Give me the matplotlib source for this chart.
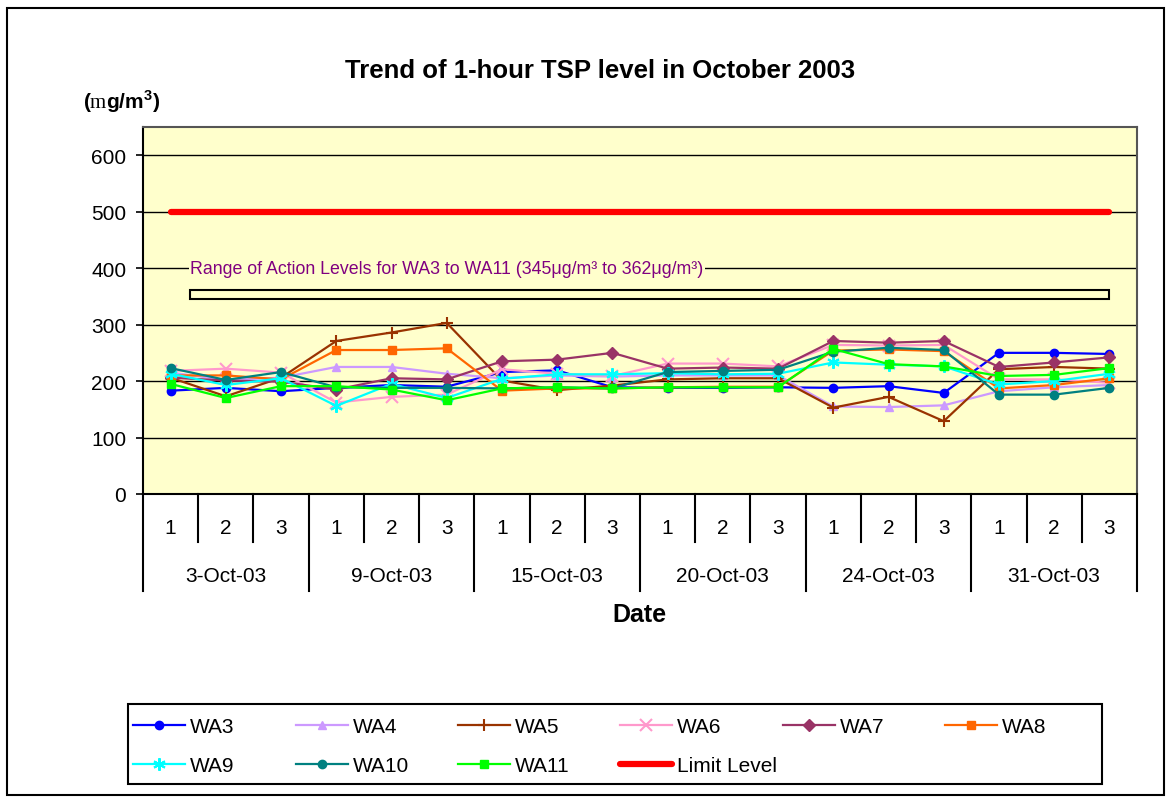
import matplotlib
matplotlib.use("Agg")
import matplotlib.pyplot as plt
from matplotlib.patches import Rectangle
from matplotlib.lines import Line2D
from matplotlib.transforms import blended_transform_factory
import numpy as np

plt.rcParams['font.family'] = ['Liberation Sans', 'DejaVu Sans']
plt.rcParams['mathtext.fontset'] = 'custom'
plt.rcParams['mathtext.rm'] = 'Liberation Serif'
plt.rcParams['mathtext.bf'] = 'Liberation Sans:bold'

# ---------------- data ----------------
dates = ["3-Oct-03", "9-Oct-03", "15-Oct-03", "20-Oct-03", "24-Oct-03", "31-Oct-03"]
sub_labels = ["1", "2", "3"]

WA3 = [183, 188, 182, 188, 193, 190, 216, 219, 189, 188, 188, 189, 188, 191, 179, 250, 250, 248]
WA4 = [215, 202, 206, 225, 225, 213, 205, 210, 208, 210, 210, 210, 155, 154, 157, 182, 189, 193]
WA5 = [206, 173, 206, 271, 286, 303, 201, 184, 192, 203, 205, 205, 153, 172, 129, 221, 225, 222]
WA6 = [218, 222, 215, 162, 172, 176, 221, 213, 209, 231, 231, 226, 264, 263, 264, 203, 203, 197]
WA7 = [206, 201, 199, 185, 205, 203, 235, 238, 250, 222, 224, 222, 271, 268, 271, 225, 233, 242]
WA8 = [210, 210, 203, 255, 255, 258, 183, 187, 187, 189, 190, 190, 254, 256, 253, 187, 193, 205]
WA9 = [213, 193, 205, 156, 195, 170, 204, 212, 212, 214, 212, 213, 233, 229, 226, 194, 200, 213]
WA10 = [223, 202, 216, 189, 188, 188, 187, 189, 187, 216, 218, 220, 252, 259, 255, 176, 176, 188]
WA11 = [195, 170, 191, 191, 185, 166, 187, 189, 187, 189, 189, 189, 257, 230, 226, 209, 211, 223]
limit_level = 500
action_low, action_high = 345, 362

series = [
    ("WA3", WA3, "#0000FF", "o", {}),
    ("WA4", WA4, "#CC99FF", "^", {}),
    ("WA5", WA5, "#993300", "+", {"markeredgewidth": 1.5, "markersize": 9}),
    ("WA6", WA6, "#FF99CC", "x", {"markeredgewidth": 1.5, "markersize": 8}),
    ("WA7", WA7, "#993366", "D", {}),
    ("WA8", WA8, "#FF6600", "s", {}),
    ("WA9", WA9, "#00FFFF", (6, 2, 0), {"markeredgewidth": 1.5, "markersize": 9}),
    ("WA10", WA10, "#008080", "o", {}),
    ("WA11", WA11, "#00FF00", "s", {}),
]

W, H = 1171, 803
fig = plt.figure(figsize=(W / 100, H / 100), dpi=100)
fig.patch.set_facecolor("white")

ax = fig.add_axes([143 / W, 1 - 495 / H, 994 / W, 367 / H])
ax.set_facecolor("#FFFFCC")

n = len(WA3)
x = np.arange(n)

handles = []
for name, vals, col, mk, extra in series:
    kw = dict(color=col, lw=1.6, marker=mk, markersize=6, markerfacecolor=col,
              markeredgecolor=col, zorder=3)
    kw.update(extra)
    ln, = ax.plot(x, vals, label=name, **kw)
    handles.append(ln)

lim, = ax.plot(x, [limit_level] * n, color="#FF0000", lw=4.5, solid_capstyle="round",
               zorder=4, label="Limit Level")
handles.append(lim)

ax.set_xlim(-0.5, n - 0.5)
ax.set_ylim(0, 650)
ax.set_yticks(np.arange(0, 601, 100))
ax.yaxis.grid(True, color="black", lw=1.0)
ax.set_axisbelow(True)
ax.set_xticks([])
ax.tick_params(axis="y", length=5, width=1.2, pad=7, labelsize=15, direction="out")

for s in ["left", "bottom"]:
    ax.spines[s].set_color("black")
    ax.spines[s].set_linewidth(1.5)
for s in ["top", "right"]:
    ax.spines[s].set_color("#555555")
    ax.spines[s].set_linewidth(1.5)

# action level box and label
ax.add_patch(Rectangle((0.35, action_low), (n - 1) - 0.35, action_high - action_low,
                       fill=False, edgecolor="black", lw=1.5, zorder=2))
ax.text(0.35, 400, "Range of Action Levels for WA3 to WA11 (345\u03bcg/m\u00b3 to 362\u03bcg/m\u00b3)",
        family=["Liberation Sans Narrow", "Liberation Sans"], fontsize=12.8, color="#800080",
        ha="left", va="center", zorder=2,
        bbox=dict(facecolor="#FFFFCC", edgecolor="none", pad=1))

# multi-level category axis
tr = blended_transform_factory(ax.transData, ax.transAxes)
for i in range(n):
    ax.text(i, -0.09, sub_labels[i % 3], transform=tr, ha="center", va="center", fontsize=15)
for g, d in enumerate(dates):
    ax.text(3 * g + 1, -0.2234, d, transform=tr, ha="center", va="center", fontsize=15)
for b in range(n + 1):
    y1 = -0.264 if b % 3 == 0 else -0.1308
    ax.add_line(Line2D([b - 0.5, b - 0.5], [0, y1], transform=tr, color="black",
                       lw=1.5, clip_on=False))

# titles
fig.text(600 / W, 1 - 71 / H, "Trend of 1-hour TSP level in October 2003", ha="center",
         va="center", fontsize=18.5, fontweight="bold")
fig.text(83 / W, 1 - 102 / H, r"($\mathrm{m}$g/m$^{\mathbf{3}}$)", ha="left", va="center",
         fontsize=15, fontweight="bold")
fig.text(639 / W, 1 - 615 / H, "Date", ha="center", va="center", fontsize=18,
         fontweight="bold")

# legend: one legend per column
cols_x = [133, 296, 458, 620, 783, 945]
col_items = [[0, 6], [1, 7], [2, 8], [3, 9], [4], [5]]
for cx, items in zip(cols_x, col_items):
    leg = fig.legend([handles[k] for k in items], [handles[k].get_label() for k in items],
                     loc="upper left", bbox_to_anchor=(cx / W, 1 - 718 / H),
                     frameon=False, fontsize=15, handlelength=2.5, handletextpad=0.25,
                     borderpad=0, borderaxespad=0, labelspacing=0.95)
fig.add_artist(Rectangle((128 / W, 1 - 785 / H), 974 / W, 80 / H, transform=fig.transFigure,
                         fill=False, edgecolor="black", lw=1.5))

# outer chart border
fig.add_artist(Rectangle((7 / W, 1 - 796 / H), 1157 / W, 787 / H, transform=fig.transFigure,
                         fill=False, edgecolor="black", lw=1.5))

fig.savefig("out.png", dpi=100)
